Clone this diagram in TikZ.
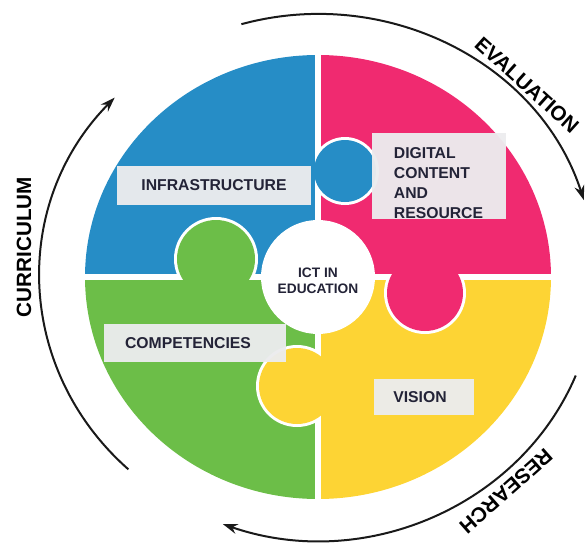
\documentclass[tikz,border=0pt]{standalone}
\usepackage{fontspec}
\setmainfont{Liberation Sans}
\usetikzlibrary{arrows.meta}

\definecolor{puzzleblue}{RGB}{38,141,198}
\definecolor{puzzlepink}{RGB}{240,42,112}
\definecolor{puzzlegreen}{RGB}{108,190,72}
\definecolor{puzzleyellow}{RGB}{253,212,52}
\definecolor{labelgray}{RGB}{236,236,238}
\definecolor{labelink}{RGB}{35,35,55}

\begin{document}
\begin{tikzpicture}[x=0.75pt,y=0.75pt,yscale=-1,xscale=1,
  labelbox/.style={fill=labelgray,fill opacity=0.96,text opacity=1,text=labelink,inner sep=0pt,font=\fontsize{11.8}{15}\selectfont\bfseries},
  labeltext/.style={text=labelink,inner sep=0pt,font=\fontsize{11.8}{14.9}\selectfont\bfseries},
  cyclelabel/.style={inner sep=0.75pt,text=black,font=\fontsize{15.5}{18}\selectfont\bfseries},
  cyclearc/.style={draw={rgb,255:red,25;green,25;blue,25},line width=1.5pt,-{Stealth[length=11pt,width=7.5pt]}}]
    \useasboundingbox (0,0) rectangle (587,543);

    %Shape: Quarters [disc]
    \begin{scope}
    \clip (318,277) ellipse [x radius=233, y radius=222];
    \fill[puzzleblue] (318,277) rectangle (70,40);
    \fill[puzzlepink] (318,277) rectangle (570,40);
    \fill[puzzlegreen] (318,277) rectangle (70,515);
    \fill[puzzleyellow] (318,277) rectangle (570,515);
    \end{scope}
    %Shape: Gaps
    \draw[white,line width=4.5pt] (318,45) -- (318,510) (75,277) -- (560,277);

    %Shape: Tab blue into pink
    \begin{scope}
    \clip (316,100) rectangle (420,240);
    \fill[white] (345,171) circle [radius=34];
    \end{scope}
    \fill[puzzleblue] (345,171) circle [radius=31];
    %Shape: Tab green into blue
    \begin{scope}
    \clip (140,200) rectangle (300,279);
    \fill[white] (216,259) circle [radius=42];
    \end{scope}
    \fill[puzzlegreen] (216,259) circle [radius=39];
    %Shape: Tab pink into yellow
    \begin{scope}
    \clip (360,275) rectangle (500,350);
    \fill[white] (425,293) circle [radius=41];
    \end{scope}
    \fill[puzzlepink] (425,293) circle [radius=38];
    %Shape: Tab yellow into green
    \begin{scope}
    \clip (240,330) rectangle (320,440);
    \fill[white] (297,386) circle [radius=41];
    \end{scope}
    \fill[puzzleyellow] (297,386) circle [radius=38];

    % Text Node
    \node[circle,fill=white,minimum size=85.5pt,inner sep=0pt] (ictdisc) at (318,277) {};
    \node[text=labelink,inner sep=0pt,align=center,font=\fontsize{10.3}{12}\selectfont\bfseries] (ict) at (318,281) {ICT IN\\EDUCATION};
    % Text Node
    \node[labelbox,minimum width=145.5pt,minimum height=29.25pt] (infra) at (214,185.5) {INFRASTRUCTURE};
    % Text Node
    \node[labelbox,minimum width=100.5pt,minimum height=64.5pt] (digitalbox) at (439,176) {};
    \node[labeltext,align=left] (digital) at (438.5,183) {DIGITAL\\CONTENT\\AND\\RESOURCE};
    % Text Node
    \node[labelbox,minimum width=136.5pt,minimum height=28.5pt] (compbox) at (195,343) {};
    \node[labeltext] (comp) at (188,343) {COMPETENCIES};
    % Text Node
    \node[labelbox,minimum width=75pt,minimum height=27pt] (visionbox) at (424,397) {};
    \node[labeltext] (vision) at (420,397) {VISION};

    %Shape: Cycle arcs
    \draw[cyclearc] (318,277) ++(-106:278 and 263) arc [start angle=-106, end angle=-17, x radius=278, y radius=263];
    \draw[cyclearc] (318,277) ++(22:278 and 263) arc [start angle=22, end angle=110, x radius=278, y radius=263];
    \draw[cyclearc] (318,277) ++(-227:278 and 263) arc [start angle=-227, end angle=-137, x radius=278, y radius=263];

    % Text Node
    \node[cyclelabel,rotate=-42] (evaluation) at (527,85) {EVALUATION};
    % Text Node
    \node[cyclelabel,rotate=-138.5] (research) at (506,491) {RESEARCH};
    % Text Node
    \node[cyclelabel,rotate=90] (curriculum) at (24,247) {CURRICULUM};
\end{tikzpicture}
\end{document}
